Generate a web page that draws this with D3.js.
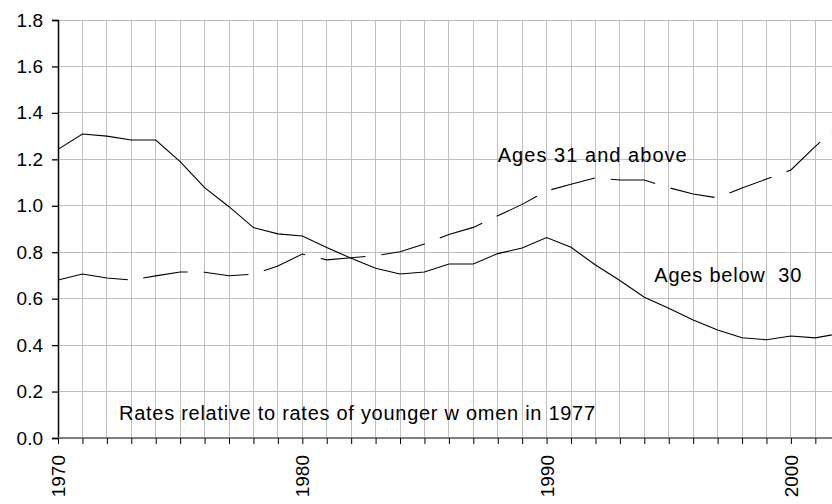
<!DOCTYPE html>
<html>
<head>
<meta charset="utf-8">
<script src="https://cdn.jsdelivr.net/npm/d3@7"></script>
<style>
  html, body { margin: 0; padding: 0; background: #fff; }
  svg { display: block; }
  text { font-family: "Liberation Sans", Arial, sans-serif; fill: #000; }
</style>
</head>
<body>
<svg id="chart" width="832" height="504"></svg>
<script>
const years = [1970,1971,1972,1973,1974,1975,1976,1977,1978,1979,1980,1981,1982,1983,1984,1985,1986,1987,1988,1989,1990,1991,1992,1993,1994,1995,1996,1997,1998,1999,2000,2001,2002];
const below30 = [1.243,1.309,1.300,1.283,1.283,1.190,1.078,0.996,0.906,0.879,0.870,0.820,0.774,0.731,0.706,0.715,0.749,0.749,0.794,0.818,0.863,0.821,0.745,0.678,0.606,0.559,0.508,0.465,0.432,0.423,0.439,0.431,0.450];
const above31 = [0.680,0.706,0.689,0.680,0.698,0.715,0.714,0.699,0.705,0.741,0.792,0.767,0.776,0.785,0.802,0.835,0.876,0.907,0.957,1.006,1.064,1.093,1.120,1.111,1.111,1.078,1.051,1.034,1.077,1.115,1.154,1.256,1.350];
const yTicks = [0,0.2,0.4,0.6,0.8,1.0,1.2,1.4,1.6,1.8];
const xLabelYears = [1970,1980,1990,2000];

const svg = d3.select("#chart");
const x = d3.scaleLinear().domain([1970, 2002]).range([58, 58 + 32 * 24.43]);
const y = d3.scaleLinear().domain([0, 1.8]).range([438, 20]);
const tickFont = "19px";

// gridlines
svg.append("g").selectAll("line.h").data(yTicks.slice(1)).join("line")
  .attr("x1", x(1970)).attr("x2", 832)
  .attr("y1", d => y(d)).attr("y2", d => y(d))
  .attr("stroke", "#c0c0c0").attr("stroke-width", 1).attr("shape-rendering", "crispEdges");
svg.append("g").selectAll("line.v").data(years.slice(1)).join("line")
  .attr("x1", d => x(d)).attr("x2", d => x(d))
  .attr("y1", y(1.8)).attr("y2", y(0))
  .attr("stroke", "#c0c0c0").attr("stroke-width", 1).attr("shape-rendering", "crispEdges");

// y axis
const yAxis = d3.axisLeft(y).tickValues(yTicks).tickFormat(d3.format(".1f")).tickSize(6).tickPadding(9);
const gy = svg.append("g").attr("transform", `translate(${x(1970)},0)`).call(yAxis);
gy.select(".domain").attr("stroke", "#000").attr("stroke-width", 1.5);
gy.selectAll(".tick line").attr("stroke", "#000").attr("stroke-width", 1.3);
gy.selectAll(".tick text").style("font-size", tickFont).style("font-family", '"Liberation Sans", Arial, sans-serif').attr("fill", "#000");

// x axis
const xAxis = d3.axisBottom(x).tickValues(years).tickSize(6)
  .tickFormat(d => xLabelYears.includes(d) ? String(d) : "");
const gx = svg.append("g").attr("transform", `translate(0,${y(0)})`).call(xAxis);
gx.select(".domain").attr("stroke", "#808080").attr("stroke-width", 2).attr("d", `M${x(1970)},0H832`);
gx.selectAll(".tick line").attr("stroke", "#000").attr("stroke-width", 1);
gx.selectAll(".tick text")
  .style("font-size", tickFont).style("font-family", '"Liberation Sans", Arial, sans-serif').attr("fill", "#000")
  .attr("text-anchor", "end")
  .attr("transform", "rotate(-90)")
  .attr("x", -17).attr("y", 0).attr("dy", "0.35em");

// lines
const line = d3.line().x((d, i) => x(years[i])).y(d => y(d));
let dash = [71, 15.5];
for (let k = 0; k < 16; k++) dash.push(45, 16);
svg.append("path").datum(above31).attr("d", line)
  .attr("fill", "none").attr("stroke", "#000").attr("stroke-width", 1.1)
  .attr("stroke-dasharray", dash.join(","));
svg.append("path").datum(below30).attr("d", line)
  .attr("fill", "none").attr("stroke", "#000").attr("stroke-width", 1.1);

// annotations
svg.append("text").attr("x", x(1988)).attr("y", y(1.19))
  .style("font-size", "20px").attr("textLength", 189).attr("lengthAdjust", "spacing")
  .text("Ages 31 and above");
svg.append("text").attr("x", x(1994.41)).attr("y", y(0.673))
  .style("font-size", "20px").style("white-space", "pre").attr("textLength", 147).attr("lengthAdjust", "spacing")
  .text("Ages below  30");
svg.append("text").attr("x", x(1972.5)).attr("y", y(0.078))
  .style("font-size", "20px").style("white-space", "pre").attr("textLength", 476).attr("lengthAdjust", "spacing")
  .text("Rates relative to rates of younger w omen in 1977");
</script>
</body>
</html>
